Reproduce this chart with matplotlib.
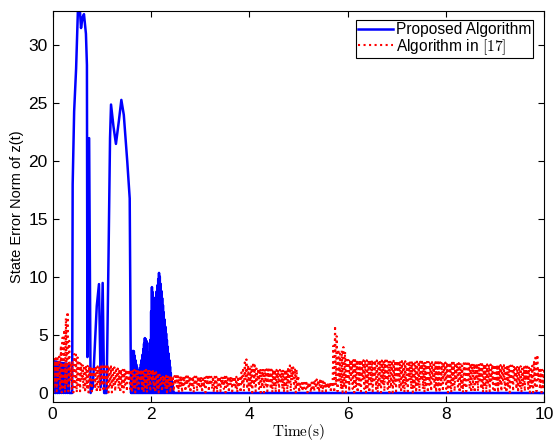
import numpy as np
import matplotlib
matplotlib.use('Agg')
from matplotlib import pyplot as plt

plt.rcParams['font.family'] = ['Liberation Sans', 'DejaVu Sans']
plt.rcParams['mathtext.fontset'] = 'cm'

# blue: chattering part at start (envelope), smooth keypoints, chattering tail
blue_c1_t = [0.0, 0.1, 0.2, 0.36]
blue_c1_y = [2.8, 2.7, 2.6, 2.5]

blue_t = [0.36, 0.40, 0.41, 0.44, 0.48, 0.52, 0.555, 0.58, 0.61, 0.64, 0.68,
          0.70, 0.71, 0.745, 0.775, 0.82, 0.90, 0.945, 0.98, 1.02, 1.05, 1.10,
          1.14, 1.17, 1.19, 1.24, 1.29, 1.35, 1.40, 1.45, 1.52, 1.57, 1.59]
blue_y = [0.0, 0.0, 18.0, 24.3, 28.0, 33.5, 33.2, 31.5, 32.4, 32.7, 31.0,
          28.3, 3.1, 22.0, 0.0, 0.5, 7.5, 9.4, 0.5, 9.5, 0.0, 0.0,
          12.0, 22.0, 24.9, 23.0, 21.5, 23.5, 25.3, 24.0, 20.0, 16.8, 3.4]

blue_c2_t = [1.59, 1.65, 1.70, 1.76, 1.82, 1.88, 1.93, 1.97, 2.02, 2.08, 2.17, 2.30, 2.42, 2.46]
blue_c2_y = [3.4, 3.7, 2.5, 1.6, 3.0, 4.8, 4.3, 1.5, 9.2, 7.5, 10.5, 5.5, 1.2, 0.0]

# red: upper envelope of the chattering signal
red_t = [0, 0.12, 0.18, 0.24, 0.29, 0.31, 0.34, 0.38, 0.45, 0.52, 0.6, 0.8, 1.2, 1.4, 1.8,
         2.05, 2.2, 3.0, 3.4, 3.8, 3.85, 3.93, 3.95, 4.0, 4.08, 4.15, 4.5, 4.76, 4.82, 4.9,
         4.98, 5.02, 5.3, 5.35, 5.6, 5.68, 5.73, 5.76, 5.8, 5.84, 5.92, 6.0, 6.8, 7.5, 8.2,
         9.2, 9.75, 9.83, 9.86, 9.9, 10]
red_y = [3.0, 3.0, 4.3, 5.5, 7.0, 7.0, 4.5, 2.3, 3.5, 3.0, 2.4, 2.3, 2.3, 2.0, 2.0,
         2.0, 1.5, 1.4, 1.4, 1.4, 1.85, 2.9, 2.9, 2.0, 2.65, 2.1, 2.0, 2.0, 2.4, 2.2,
         2.0, 0.85, 0.9, 1.2, 0.85, 1.0, 5.8, 5.8, 4.0, 3.3, 4.0, 2.85, 2.8, 2.7, 2.6,
         2.4, 2.25, 3.3, 3.3, 2.0, 2.0]
# trough levels the red signal drops to, in turn
red_low = [0.05, 0.7, 0.15, 1.1, 0.35, 0.05, 0.5]


def chatter(te, ye, dt, low):
    """switch between the envelope and the low levels every dt"""
    t = np.arange(te[0], te[-1], dt)
    hi = np.interp(t, te, ye)
    k = np.arange(len(t))
    lo = np.asarray(low)[(k // 2) % len(low)]
    y = np.where(k % 2 == 0, hi, np.minimum(lo, hi * 0.5))
    return t, y


t1, y1 = chatter(blue_c1_t, blue_c1_y, 0.02, [0.0])
t3, y3 = chatter(blue_c2_t, blue_c2_y, 0.008, [0.0])
bt = np.concatenate([t1, blue_t, t3, [2.46, 10.0]])
by = np.concatenate([y1, blue_y, y3, [0.0, 0.0]])

rt, ry = chatter(red_t, red_y, 0.017, red_low)

fig = plt.figure(figsize=(5.55, 4.42), dpi=100)
ax = fig.add_axes([0.0946, 0.0912, 0.886, 0.8846])

ax.plot(bt, by, color='blue', lw=1.8, label='Proposed Algorithm')
ax.plot(rt, ry, color='red', lw=1.5, ls=':', label=r'Algorithm in $[17]$')

ax.set_xlim(0, 10)
ax.set_ylim(-0.75, 33)
ax.set_xticks([0, 2, 4, 6, 8, 10])
ax.set_yticks([0, 5, 10, 15, 20, 25, 30])
ax.tick_params(direction='in', top=True, right=True, length=4, labelsize=12.5, width=0.8)
for s in ax.spines.values():
    s.set_linewidth(0.8)

ax.set_xlabel(r'$\mathrm{Time(s)}$', fontsize=11, labelpad=0)
ax.set_ylabel('State Error Norm of z(t)', fontsize=10.5, labelpad=3)

leg = ax.legend(loc='upper right', bbox_to_anchor=(0.978, 0.975), borderaxespad=0,
                fontsize=11.2, fancybox=False, edgecolor='black', framealpha=1,
                handlelength=2.3, handletextpad=0.2, borderpad=0.1, labelspacing=0.0)
leg.get_frame().set_linewidth(0.8)

plt.savefig('out.png', dpi=100)
